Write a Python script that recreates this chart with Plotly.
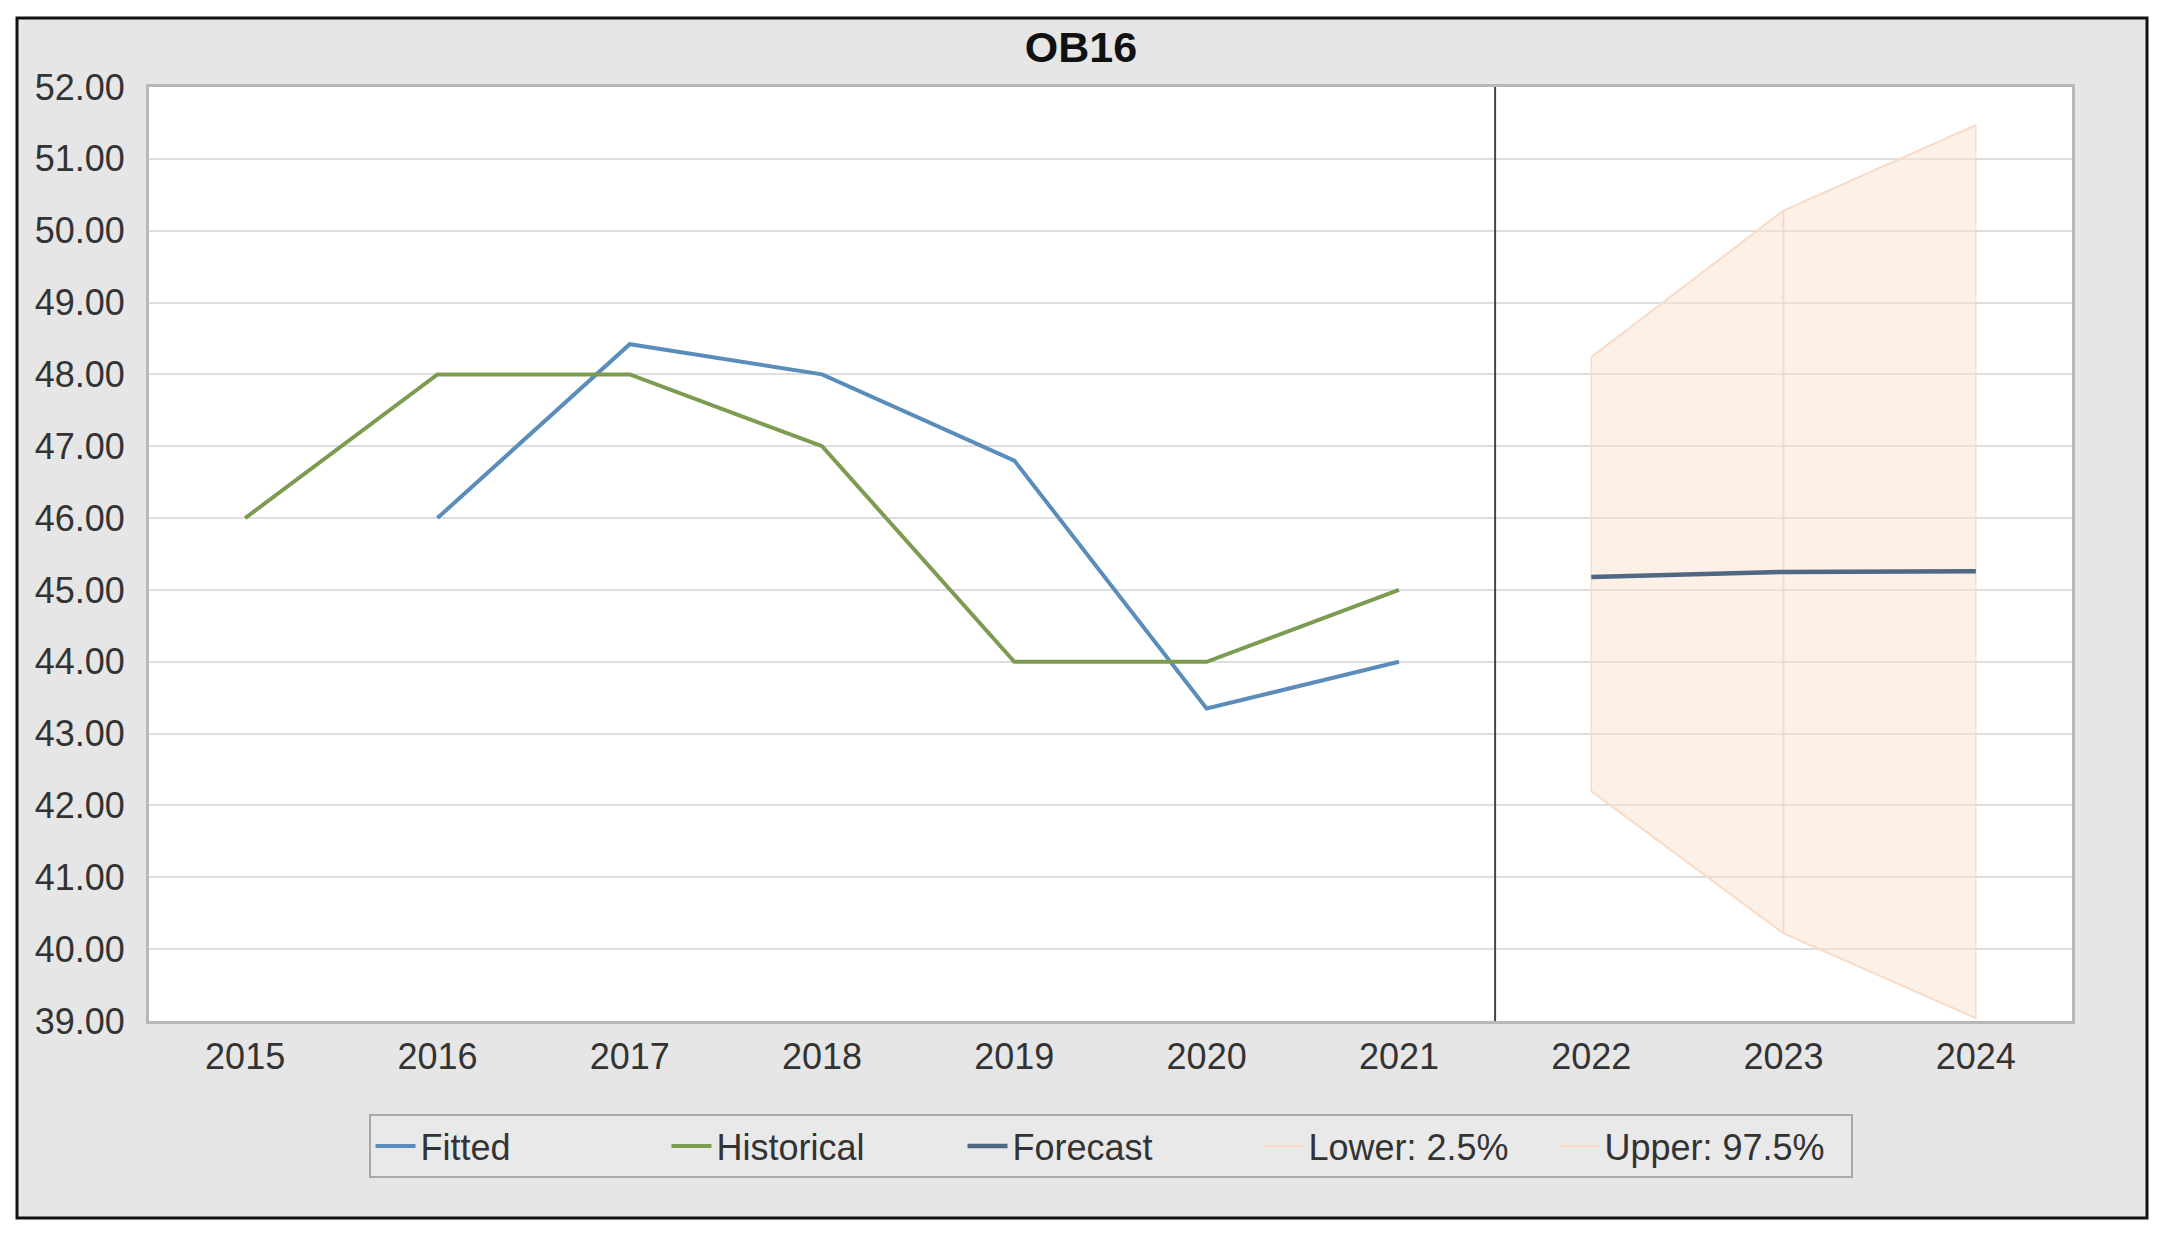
import plotly.graph_objects as go

# ---- data ----
years_hist = [2015, 2016, 2017, 2018, 2019, 2020, 2021]
historical = [46.0, 48.0, 48.0, 47.0, 44.0, 44.0, 45.0]
years_fit = [2016, 2017, 2018, 2019, 2020, 2021]
fitted = [46.0, 48.42, 48.0, 46.8, 43.35, 44.0]
years_fc = [2022, 2023, 2024]
forecast = [45.18, 45.25, 45.26]
lower = [42.2, 40.22, 39.04]
upper = [48.24, 50.28, 51.47]
x_ticks = [2015, 2016, 2017, 2018, 2019, 2020, 2021, 2022, 2023, 2024]
title_text = "OB16"

FONT = "Liberation Sans, Arial, sans-serif"
W, H = 2162, 1238
L, R, T, B = 149, 90, 87, 217
pw, ph = W - L - R, H - T - B

def px_x(p):
    return (p - L) / pw

def px_y(p):
    return (H - B - p) / ph

fig = go.Figure()

# band polygons, one per forecast segment
for i in range(len(years_fc) - 1):
    xs = [years_fc[i], years_fc[i + 1], years_fc[i + 1], years_fc[i], years_fc[i]]
    ys = [upper[i], upper[i + 1], lower[i + 1], lower[i], upper[i]]
    fig.add_trace(go.Scatter(x=xs, y=ys, mode="lines", fill="toself",
                             fillcolor="rgba(252,226,205,0.5)",
                             line=dict(color="rgba(248,212,188,0.75)", width=1.5),
                             showlegend=False, hoverinfo="skip"))

fig.add_trace(go.Scatter(x=years_fc, y=lower, mode="lines", name="Lower: 2.5%",
                         line=dict(color="#f8dcc8", width=2), legendrank=4))
fig.add_trace(go.Scatter(x=years_fc, y=upper, mode="lines", name="Upper: 97.5%",
                         line=dict(color="#f8dcc8", width=2), legendrank=5))
fig.add_trace(go.Scatter(x=years_fit, y=fitted, mode="lines", name="Fitted",
                         line=dict(color="#5b8dbb", width=4), legendrank=1))
fig.add_trace(go.Scatter(x=years_hist, y=historical, mode="lines", name="Historical",
                         line=dict(color="#7d9c52", width=4), legendrank=2))
fig.add_trace(go.Scatter(x=years_fc, y=forecast, mode="lines", name="Forecast",
                         line=dict(color="#4f6884", width=4.5), legendrank=3))

divider = (years_hist[-1] + years_fc[0]) / 2

shapes = [
    # outer gray frame with black border
    dict(type="rect", xref="paper", yref="paper", layer="below",
         x0=px_x(17), x1=px_x(2147), y0=px_y(1218), y1=px_y(18),
         fillcolor="#e6e6e6", line=dict(color="#111111", width=3)),
    # white plot area
    dict(type="rect", xref="paper", yref="paper", layer="below",
         x0=0, x1=1, y0=0, y1=1, fillcolor="white", line=dict(width=0)),
    # divider line
    dict(type="line", xref="x", yref="paper", x0=divider, x1=divider, y0=0, y1=1,
         line=dict(color="#444444", width=2)),
]

fig.update_layout(
    width=W, height=H,
    margin=dict(l=L, r=R, t=T, b=B),
    paper_bgcolor="white",
    plot_bgcolor="white",
    font=dict(family=FONT, size=36, color="#333333"),
    title=dict(text="<b>" + title_text + "</b>", x=0.5, xref="container",
               y=1 - 47 / H, yref="container", yanchor="middle", xanchor="center",
               font=dict(family=FONT, size=43, color="#111111")),
    shapes=shapes,
    showlegend=True,
    legend=dict(orientation="h", x=0.5, xanchor="center", y=px_y(1114), yanchor="top",
                bgcolor="#e9e9e9", bordercolor="#a8a8a8", borderwidth=2,
                font=dict(family=FONT, size=36, color="#333333"),
                entrywidth=241, itemwidth=40, traceorder="normal",
                itemclick=False),
)

fig.update_xaxes(range=[x_ticks[0] - 0.5, x_ticks[-1] + 0.5], tickmode="array",
                 tickvals=x_ticks, ticktext=[str(v) for v in x_ticks],
                 showgrid=False, zeroline=False, showline=True, mirror=True,
                 linecolor="#b8b8b8", linewidth=3, ticks="", ticklabelstandoff=2,
                 tickfont=dict(size=36, color="#333333"))
fig.update_yaxes(range=[39, 52], dtick=1, tick0=39, tickformat=".2f",
                 showgrid=True, gridcolor="#dedede", gridwidth=2, zeroline=False,
                 showline=True, mirror=True, linecolor="#b8b8b8", linewidth=3,
                 ticks="", ticklabelstandoff=14,
                 tickfont=dict(size=36, color="#333333"))

fig.write_html("out.html", config={"displayModeBar": False},
               post_script="document.body.style.margin='0';")
